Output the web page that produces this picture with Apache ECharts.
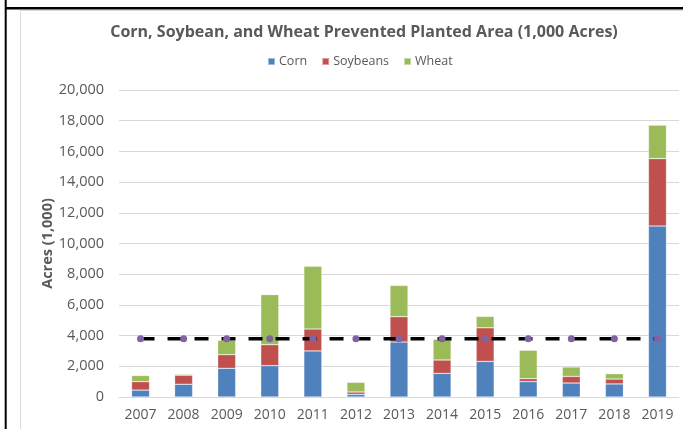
<!DOCTYPE html>
<html>
<head>
<meta charset="utf-8">
<script src="https://cdn.jsdelivr.net/npm/echarts@6/dist/echarts.min.js"></script>
<style>
  html, body { margin: 0; padding: 0; background: #fff; }
  #chart { width: 683px; height: 429px; }
</style>
</head>
<body>
<div id="chart"></div>
<script>
const years = ['2007', '2008', '2009', '2010', '2011', '2012', '2013', '2014', '2015', '2016', '2017', '2018', '2019']
const corn = [450, 830, 1870, 2040, 3000, 175, 3580, 1540, 2320, 1000, 910, 850, 11140]
const soybeans = [550, 590, 890, 1370, 1430, 150, 1650, 870, 2190, 195, 435, 320, 4390]
const wheat = [400, 70, 935, 3260, 4090, 630, 2040, 1350, 740, 1850, 610, 350, 2180]
// average line (2007-2018)
const average = [3800, 3800, 3800, 3800, 3800, 3800, 3800, 3800, 3800, 3800, 3800, 3800, 3800]

const font = '"Open Sans", sans-serif'
const grey = '#595959'

const chart = echarts.init(document.getElementById('chart'), null, {renderer: 'canvas'})

const barSeries = (name, data, color) => ({
  name: name,
  type: 'bar',
  stack: 'pp',
  data: data,
  barWidth: 18,
  itemStyle: {color: color, borderColor: 'rgba(255,255,255,0.45)', borderWidth: 0.6},
  emphasis: {disabled: true}
})

const option = {
  animation: false,
  backgroundColor: '#fff',
  textStyle: {fontFamily: font},
  title: {
    text: 'Corn, Soybean, and Wheat Prevented Planted Area (1,000 Acres)',
    left: 359,
    top: 19,
    textAlign: 'center',
    textStyle: {fontFamily: font, fontSize: 16, fontWeight: 'bold', color: grey}
  },
  legend: {
    data: ['Corn', 'Soybeans', 'Wheat'],
    left: 267,
    top: 55,
    padding: 0,
    icon: 'rect',
    itemWidth: 7,
    itemHeight: 7,
    itemGap: 14,
    textStyle: {fontFamily: font, fontSize: 12.5, color: grey, padding: [0, 0, 0, -1]}
  },
  grid: {left: 119, right: 4, top: 90, bottom: 32},
  xAxis: {
    type: 'category',
    data: years,
    axisTick: {show: false},
    axisLine: {show: true, lineStyle: {color: '#d9d9d9'}},
    axisLabel: {fontFamily: font, fontSize: 14, color: grey, margin: 11}
  },
  yAxis: {
    type: 'value',
    min: 0,
    max: 20000,
    interval: 2000,
    name: 'Acres (1,000)',
    nameLocation: 'middle',
    nameGap: 64,
    nameMoveOverlap: false,
    nameTextStyle: {fontFamily: font, fontSize: 14.5, fontWeight: 'bold', color: grey},
    axisLine: {show: false},
    axisTick: {show: false},
    axisLabel: {
      fontFamily: font, fontSize: 14.5, color: grey, margin: 15,
      formatter: v => v.toLocaleString('en-US')
    },
    splitLine: {lineStyle: {color: '#d9d9d9', width: 1}}
  },
  graphic: [
    {type: 'rect', shape: {x: 20.5, y: 10.5, width: 700, height: 500}, style: {fill: 'none', stroke: '#d9d9d9', lineWidth: 1}, z: -1},
    {type: 'rect', shape: {x: 5, y: 7, width: 690, height: 2.5}, style: {fill: '#000'}},
    {type: 'rect', shape: {x: 4.7, y: 0, width: 2, height: 429}, style: {fill: '#000'}}
  ],
  series: [
    barSeries('Corn', corn, '#4F81BD'),
    barSeries('Soybeans', soybeans, '#C0504D'),
    barSeries('Wheat', wheat, '#9BBB59'),
    {
      name: 'Average',
      type: 'line',
      data: average,
      z: 5,
      symbol: 'circle',
      symbolSize: 7,
      itemStyle: {color: '#8064A2'},
      lineStyle: {color: '#000', width: 3.5, type: [14, 13]},
      emphasis: {disabled: true}
    }
  ]
}

chart.setOption(option)
</script>
</body>
</html>
